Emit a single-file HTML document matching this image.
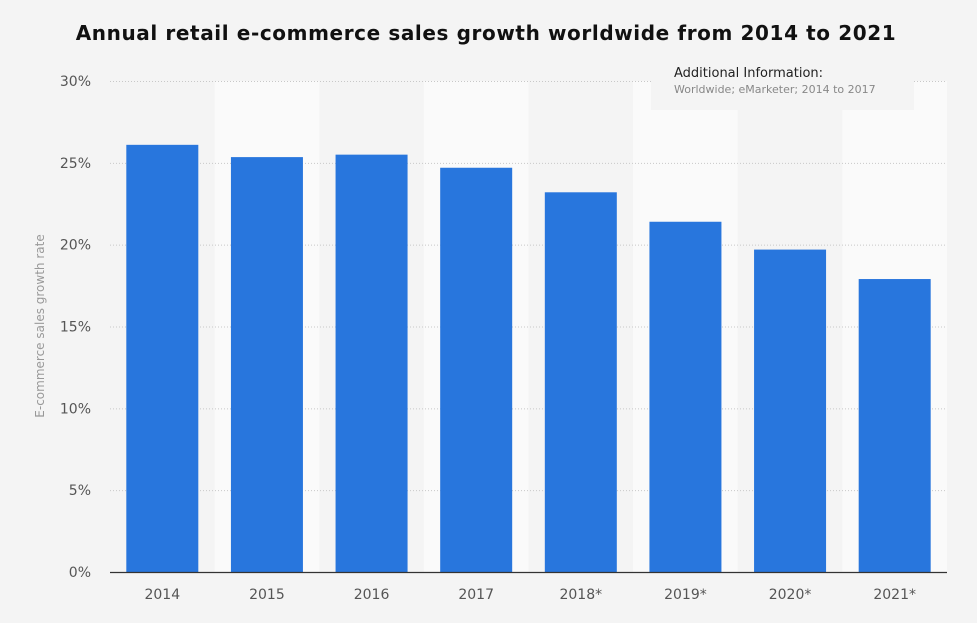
<!DOCTYPE html>
<html><head><meta charset="utf-8"><style>
body{margin:0;background:#f4f4f4;}
svg{display:block;font-family:"DejaVu Sans","Liberation Sans",sans-serif;}
</style></head><body>
<svg id="chart" width="977" height="623" viewBox="0 0 977 623" xmlns="http://www.w3.org/2000/svg">
<rect width="977" height="623" fill="#f4f4f4"/>
<text x="486" y="40" text-anchor="middle" font-size="20" font-weight="bold" fill="#111" letter-spacing="0.6">Annual retail e-commerce sales growth worldwide from 2014 to 2021</text>
<g id="bands"></g>
<g id="grid"></g>
<g id="bars"></g>
<g id="xlabels"></g>
<rect x="651" y="60" width="263" height="50" fill="#f4f4f4"/>
<text x="674" y="77" font-size="13" fill="#222">Additional Information:</text>
<text x="674" y="93" font-size="11" fill="#888">Worldwide; eMarketer; 2014 to 2017</text>
<text transform="translate(44,326) rotate(-90)" text-anchor="middle" font-size="12" fill="#999">E-commerce sales growth rate</text>
<line x1="110" y1="572.5" x2="947" y2="572.5" stroke="#333" stroke-width="1.2"/>
</svg>
<script>
const categories=["2014","2015","2016","2017","2018*","2019*","2020*","2021*"];
const values=[26.1,25.35,25.5,24.7,23.2,21.4,19.7,17.9];
const yTicks=[0,5,10,15,20,25,30];
const yTickLabels=["0%","5%","10%","15%","20%","25%","30%"];
const NS="http://www.w3.org/2000/svg";
const x0=110,x1=947,y0=572,yTop=81,yMax=30;
const band=(x1-x0)/categories.length;
const xScale=i=>x0+band*i;
const yScale=v=>y0-(v/yMax)*(y0-yTop);
function mk(tag,attrs,parent){const e=document.createElementNS(NS,tag);for(const k in attrs)e.setAttribute(k,attrs[k]);parent.appendChild(e);return e;}
const bands=document.getElementById('bands'),grid=document.getElementById('grid'),bars=document.getElementById('bars'),xl=document.getElementById('xlabels');
categories.forEach((c,i)=>{
  if(i%2===1){const r=mk('rect',{x:xScale(i),y:yTop,width:band,height:y0-yTop,fill:'#fafafa'},bands);
  
  }
  const bw=72,cx=xScale(i)+band/2;
  const b=mk('rect',{x:cx-bw/2,y:yScale(values[i]),width:bw,height:y0-yScale(values[i]),fill:'#2876dd'},bars);
  
  
  const t=mk('text',{x:cx,y:599,'text-anchor':'middle','font-size':14,fill:'#555'},xl);t.textContent=c;
  
  
});
yTicks.forEach((v,i)=>{
  const y=yScale(v);
  if(v>0){const l=mk('line',{x1:x0,x2:x1,y1:y+0.5,y2:y+0.5,stroke:'#c8c8c8','stroke-dasharray':'1,2'},grid);
  
  }
  const t=mk('text',{x:91,y:y+5,'text-anchor':'end','font-size':14,fill:'#555'},grid);t.textContent=yTickLabels[i];
  
  
});
</script>
</body></html>
